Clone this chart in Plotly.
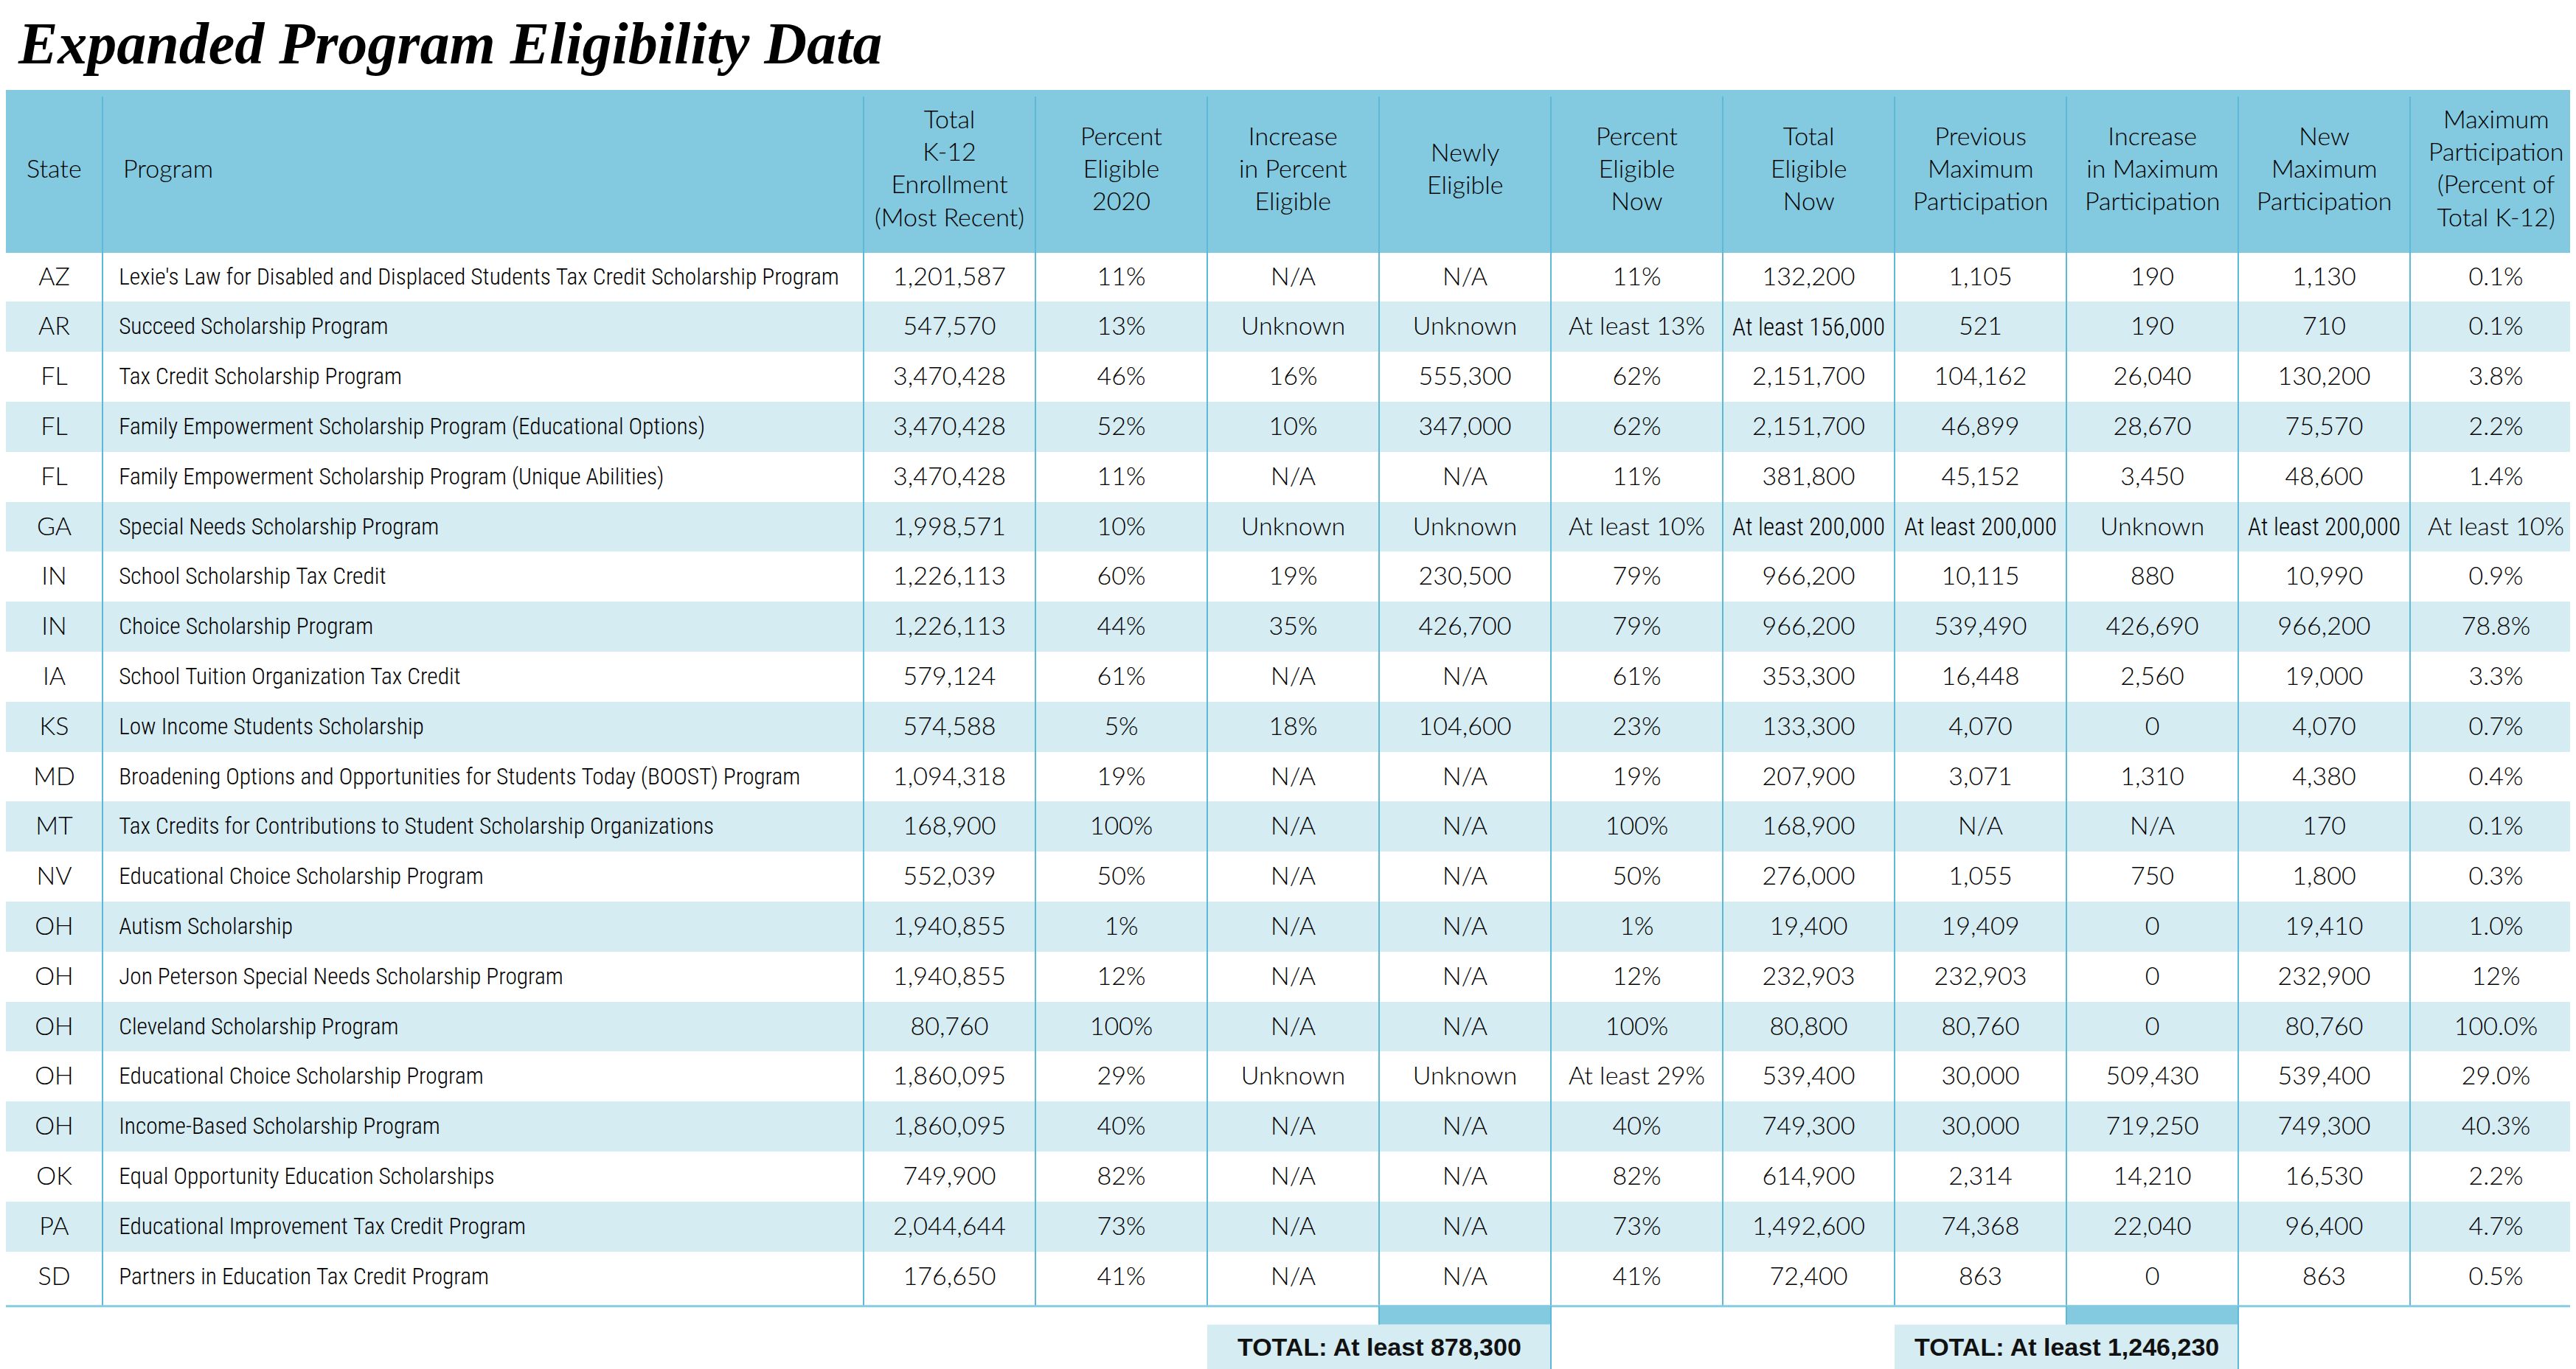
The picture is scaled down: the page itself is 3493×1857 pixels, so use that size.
import plotly.graph_objects as go

# ---------------- data ----------------
title_text = "Expanded Program Eligibility Data"

header_labels = [
    "State", "Program",
    "Total<br>K-12<br>Enrollment<br>(Most Recent)",
    "Percent<br>Eligible<br>2020",
    "Increase<br>in Percent<br>Eligible",
    "Newly<br>Eligible",
    "Percent<br>Eligible<br>Now",
    "Total<br>Eligible<br>Now",
    "Previous<br>Maximum<br>Participation",
    "Increase<br>in Maximum<br>Participation",
    "New<br>Maximum<br>Participation",
    "Maximum<br>Participation<br>(Percent of<br>Total K-12)",
]

states = ["AZ", "AR", "FL", "FL", "FL", "GA", "IN", "IN", "IA", "KS", "MD",
          "MT", "NV", "OH", "OH", "OH", "OH", "OH", "OK", "PA", "SD"]

programs = [
    "Lexie's Law for Disabled and Displaced Students Tax Credit Scholarship Program",
    "Succeed Scholarship Program",
    "Tax Credit Scholarship Program",
    "Family Empowerment Scholarship Program (Educational Options)",
    "Family Empowerment Scholarship Program (Unique Abilities)",
    "Special Needs Scholarship Program",
    "School Scholarship Tax Credit",
    "Choice Scholarship Program",
    "School Tuition Organization Tax Credit",
    "Low Income Students Scholarship",
    "Broadening Options and Opportunities for Students Today (BOOST) Program",
    "Tax Credits for Contributions to Student Scholarship Organizations",
    "Educational Choice Scholarship Program",
    "Autism Scholarship",
    "Jon Peterson Special Needs Scholarship Program",
    "Cleveland Scholarship Program",
    "Educational Choice Scholarship Program",
    "Income-Based Scholarship Program",
    "Equal Opportunity Education Scholarships",
    "Educational Improvement Tax Credit Program",
    "Partners in Education Tax Credit Program",
]

enrollment = ["1,201,587", "547,570", "3,470,428", "3,470,428", "3,470,428", "1,998,571",
              "1,226,113", "1,226,113", "579,124", "574,588", "1,094,318", "168,900",
              "552,039", "1,940,855", "1,940,855", "80,760", "1,860,095", "1,860,095",
              "749,900", "2,044,644", "176,650"]

pct_eligible_2020 = ["11%", "13%", "46%", "52%", "11%", "10%", "60%", "44%", "61%", "5%",
                     "19%", "100%", "50%", "1%", "12%", "100%", "29%", "40%", "82%", "73%", "41%"]

increase_pct = ["N/A", "Unknown", "16%", "10%", "N/A", "Unknown", "19%", "35%", "N/A", "18%",
                "N/A", "N/A", "N/A", "N/A", "N/A", "N/A", "Unknown", "N/A", "N/A", "N/A", "N/A"]

newly_eligible = ["N/A", "Unknown", "555,300", "347,000", "N/A", "Unknown", "230,500", "426,700",
                  "N/A", "104,600", "N/A", "N/A", "N/A", "N/A", "N/A", "N/A", "Unknown", "N/A",
                  "N/A", "N/A", "N/A"]

pct_eligible_now = ["11%", "At least 13%", "62%", "62%", "11%", "At least 10%", "79%", "79%",
                    "61%", "23%", "19%", "100%", "50%", "1%", "12%", "100%", "At least 29%",
                    "40%", "82%", "73%", "41%"]

total_eligible_now = ["132,200", "At least 156,000", "2,151,700", "2,151,700", "381,800",
                      "At least 200,000", "966,200", "966,200", "353,300", "133,300", "207,900",
                      "168,900", "276,000", "19,400", "232,903", "80,800", "539,400", "749,300",
                      "614,900", "1,492,600", "72,400"]

prev_max_participation = ["1,105", "521", "104,162", "46,899", "45,152", "At least 200,000",
                          "10,115", "539,490", "16,448", "4,070", "3,071", "N/A", "1,055",
                          "19,409", "232,903", "80,760", "30,000", "30,000", "2,314", "74,368", "863"]

increase_max_participation = ["190", "190", "26,040", "28,670", "3,450", "Unknown", "880",
                              "426,690", "2,560", "0", "1,310", "N/A", "750", "0", "0", "0",
                              "509,430", "719,250", "14,210", "22,040", "0"]

new_max_participation = ["1,130", "710", "130,200", "75,570", "48,600", "At least 200,000",
                         "10,990", "966,200", "19,000", "4,070", "4,380", "170", "1,800",
                         "19,410", "232,900", "80,760", "539,400", "749,300", "16,530",
                         "96,400", "863"]

max_participation_pct = ["0.1%", "0.1%", "3.8%", "2.2%", "1.4%", "At least 10%", "0.9%", "78.8%",
                         "3.3%", "0.7%", "0.4%", "0.1%", "0.3%", "1.0%", "12%", "100.0%", "29.0%",
                         "40.3%", "2.2%", "4.7%", "0.5%"]

total_newly_eligible = "TOTAL: At least 878,300"
total_increase_max = "TOTAL: At least 1,246,230"

columns = [states, programs, enrollment, pct_eligible_2020, increase_pct, newly_eligible,
           pct_eligible_now, total_eligible_now, prev_max_participation,
           increase_max_participation, new_max_participation, max_participation_pct]

# ---------------- layout constants ----------------
W, H = 3493, 1857
col_widths = [131, 1032] + [233] * 10
header_top = 120
table_lift = 6           # plotly draws the table a few px below its domain top
header_h = 220
row_h = 67.8
shift_main = 11          # table text is top-aligned; push it down to sit mid-row
shift_small = 12
n_rows = len(states)
n_cols = len(columns)
table_bottom = header_top + header_h + n_rows * row_h

HEADER_BLUE = "#83c9df"
ROW_LIGHT = "#d6ecf3"
WHITE = "#ffffff"
LINE_BLUE = "#5cbad7"
TEXT = "#000000"
CLEAR = "rgba(0,0,0,0)"
SANS = "Lato Light, Lato, Liberation Sans, sans-serif"
COND = "Roboto Condensed Light, Roboto Condensed, Liberation Sans, sans-serif"
BOLD = "Liberation Sans, Arial, sans-serif"

edges = [0]
for w in col_widths:
    edges.append(edges[-1] + w)

row_fill = [WHITE if i % 2 == 0 else ROW_LIGHT for i in range(n_rows)]
fills = [row_fill[:] for _ in columns]
aligns = ["center", "left"] + ["center"] * 10
domain = dict(x=[0, 1], y=[0, 1 - (header_top - table_lift) / H])


def cond_face(ci, v):
    # program names and the long "At least ..." entries are set in the condensed face
    return ci == 1 or (ci >= 2 and len(v) > 12)


def keep(v):
    return v.replace(" ", "\u00a0")


main_vals = [[("" if cond_face(ci, v) else keep(v)) for v in col] for ci, col in enumerate(columns)]
cond_vals = [[(keep(v) if cond_face(ci, v) else "") for v in col] for ci, col in enumerate(columns)]

fig = go.Figure()
fig.add_trace(go.Table(
    domain=domain, columnwidth=col_widths,
    header=dict(values=[""] * n_cols, height=header_h,
                fill=dict(color=HEADER_BLUE), line=dict(color=HEADER_BLUE, width=1)),
    cells=dict(values=[[""] * n_rows for _ in columns], height=row_h,
               fill=dict(color=fills), line=dict(color=fills, width=1)),
))
fig.add_trace(go.Table(
    domain=domain, columnwidth=col_widths,
    header=dict(values=[""] * n_cols, height=header_h + shift_main,
                fill=dict(color=CLEAR), line=dict(color=CLEAR, width=0)),
    cells=dict(values=main_vals, height=row_h, align=aligns,
               fill=dict(color=CLEAR), line=dict(color=CLEAR, width=0),
               font=dict(family=SANS, size=34, color=TEXT)),
))
fig.add_trace(go.Table(
    domain=domain, columnwidth=col_widths,
    header=dict(values=[""] * n_cols, height=header_h + shift_small,
                fill=dict(color=CLEAR), line=dict(color=CLEAR, width=0)),
    cells=dict(values=cond_vals, height=row_h, align=aligns,
               prefix=["", "\u00a0\u00a0"] + [""] * 10,
               fill=dict(color=CLEAR), line=dict(color=CLEAR, width=0),
               font=dict(family=COND, size=[34, 31.4] + [33] * 10, color=TEXT)),
))


def px(x):
    return x / W


def py(y):
    return 1 - y / H


shapes = []
for e in edges[1:-1]:
    shapes.append(dict(type="line", xref="paper", yref="paper",
                       x0=px(e), x1=px(e), y0=py(header_top + 3), y1=py(table_bottom),
                       line=dict(color=LINE_BLUE, width=2)))
shapes.append(dict(type="line", xref="paper", yref="paper",
                   x0=0, x1=1, y0=py(table_bottom), y1=py(table_bottom),
                   line=dict(color="#86cce0", width=3)))

annotations = []
strip_h = 25
for (c_left, c_strip, label) in [(4, 5, total_newly_eligible), (8, 9, total_increase_max)]:
    x0, xm, x1 = edges[c_left], edges[c_strip], edges[c_strip + 1]
    shapes.append(dict(type="rect", xref="paper", yref="paper", layer="above",
                       x0=px(xm), x1=px(x1), y0=py(table_bottom + strip_h), y1=py(table_bottom - 1),
                       fillcolor=HEADER_BLUE, line=dict(width=0)))
    shapes.append(dict(type="rect", xref="paper", yref="paper", layer="above",
                       x0=px(x0), x1=px(x1), y0=py(H), y1=py(table_bottom + strip_h),
                       fillcolor=ROW_LIGHT, line=dict(width=0)))
    shapes.append(dict(type="line", xref="paper", yref="paper",
                       x0=px(xm), x1=px(xm), y0=py(table_bottom), y1=py(table_bottom + strip_h),
                       line=dict(color=LINE_BLUE, width=2)))
    shapes.append(dict(type="line", xref="paper", yref="paper",
                       x0=px(x1), x1=px(x1), y0=py(table_bottom), y1=py(H),
                       line=dict(color=LINE_BLUE, width=2)))
    annotations.append(dict(xref="paper", yref="paper", x=px((x0 + x1) / 2),
                            y=py((table_bottom + strip_h + H) / 2 - 4),
                            text="<b>" + label + "</b>", showarrow=False,
                            xanchor="center", yanchor="middle",
                            font=dict(family=BOLD, size=34, color="#111111")))

for ci, lab in enumerate(header_labels):
    if ci == 1:
        x, xa = px(edges[1] + 26), "left"
    else:
        x, xa = px((edges[ci] + edges[ci + 1]) / 2), "center"
    annotations.append(dict(xref="paper", yref="paper", x=x, y=py(header_top + header_h / 2 - 11),
                            text=lab, showarrow=False, xanchor=xa, yanchor="middle",
                            align="center", valign="middle",
                            font=dict(family=SANS, size=34, color=TEXT)))

annotations.append(dict(xref="paper", yref="paper", x=px(14), y=py(5), text=title_text,
                        showarrow=False, xanchor="left", yanchor="top",
                        font=dict(family="Liberation Serif, serif", size=80, color="#000000",
                                  weight="bold", style="italic")))

fig.update_layout(
    width=W, height=H,
    margin=dict(l=0, r=0, t=0, b=0),
    paper_bgcolor="white", plot_bgcolor="white",
    shapes=shapes, annotations=annotations,
    showlegend=False,
)

fig.write_html("out.html")
